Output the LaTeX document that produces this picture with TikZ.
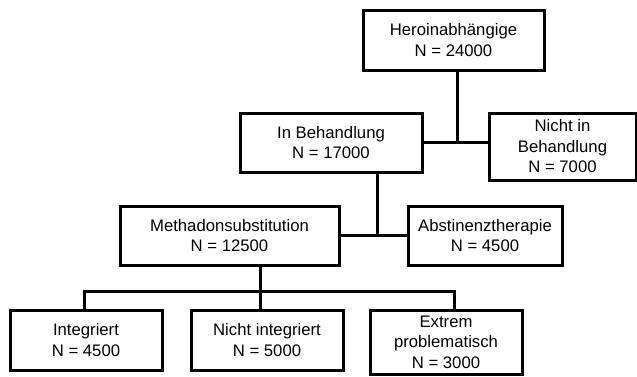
\documentclass[tikz,border=0pt]{standalone}
\usepackage{fontspec}
\setmainfont{Liberation Sans}
\begin{document}
\begin{tikzpicture}[x=1pt,y=-1pt,
  box/.style={draw=black,line width=3pt,rectangle,inner sep=0pt,align=center,
    font=\fontsize{16.7}{20.5}\selectfont},
  conn/.style={draw=black,line width=3pt}]
\useasboundingbox (0,0) rectangle (637,376);
\node[box,minimum width=181pt,minimum height=60pt] (hero) at (453.5,40) {Heroinabhängige\\N = 24000};
\node[box,minimum width=182pt,minimum height=59pt] (inb) at (331,142.5) {In Behandlung\\N = 17000};
\node[box,minimum width=147pt,minimum height=67pt] (nib) at (562.5,146.5) {Nicht in\\Behandlung\\N = 7000};
\node[box,minimum width=219pt,minimum height=59pt] (meth) at (229.5,235.5) {Methadonsubstitution\\N = 12500};
\node[box,minimum width=154pt,minimum height=59pt] (abst) at (485,235.5) {Abstinenztherapie\\N = 4500};
\node[box,minimum width=152pt,minimum height=60pt] (integ) at (86,340) {Integriert\\N = 4500};
\node[box,minimum width=152pt,minimum height=60pt] (nint) at (267,340) {Nicht integriert\\N = 5000};
\node[box,minimum width=152pt,minimum height=64pt] (extr) at (446,342) {Extrem\\problematisch\\N = 3000};
\coordinate (busy) at (0,291);
\draw[conn] (inb.east) -- (inb.east -| nib.west);
\draw[conn] ([xshift=3.5pt]hero.south) -- ([xshift=3.5pt]hero.south |- inb.east);
\draw[conn] (meth.east) -- (abst.west);
\draw[conn] ([xshift=46pt]inb.south) -- ([xshift=46pt]inb.south |- meth.east);
\draw[conn] ([xshift=30.5pt]meth.south) -- ([xshift=30.5pt]meth.south |- nint.north);
\draw[conn] ([xshift=-2pt]integ.north) -- ([xshift=-2pt]integ.north |- busy) -- ([xshift=8pt]extr.north |- busy) -- ([xshift=8pt]extr.north);
\end{tikzpicture}
\end{document}
